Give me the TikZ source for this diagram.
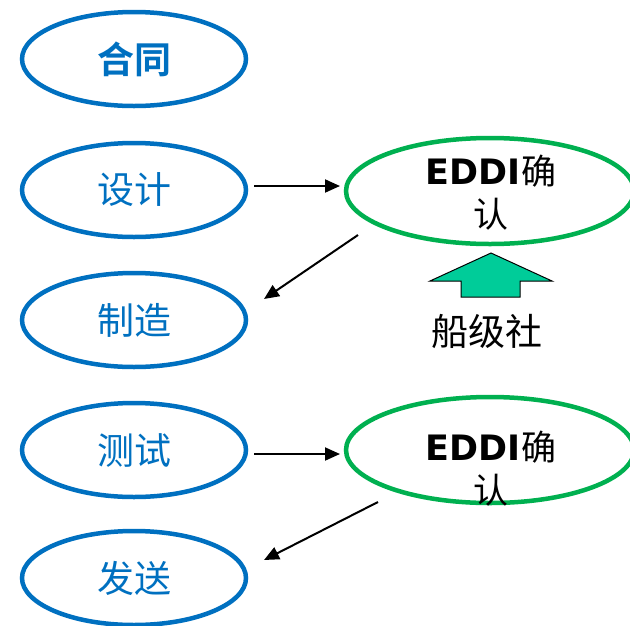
\documentclass[tikz,border=0pt]{standalone}
\usepackage{fontspec}
\newfontfamily\cjk{Noto Sans CJK SC}
\newfontfamily\cjkb{Noto Sans CJK SC Bold}
\newfontfamily\eddi{DejaVu Sans}
\usetikzlibrary{shapes.geometric,arrows.meta}
\definecolor{pblue}{HTML}{0070C0}
\definecolor{pgreen}{HTML}{00B050}
\definecolor{pteal}{HTML}{00CC99}
\tikzset{
  stage/.style={ellipse,draw=pblue,line width=4.5pt,minimum width=224pt,minimum height=94pt,inner sep=0pt,text=pblue,font=\fontsize{37}{40}\selectfont\cjk},
  check/.style={ellipse,draw=pgreen,line width=4.5pt,minimum width=288pt,minimum height=106pt,inner sep=0pt},
  lbl/.style={inner sep=0pt,align=center,font=\fontsize{35}{43}\selectfont},
  flow/.style={line width=2pt,-{Triangle[length=15pt,width=13pt]}},
}
\begin{document}
\begin{tikzpicture}[x=1pt,y=-1pt]
\useasboundingbox (0,0) rectangle (630,625);
\node[stage,font=\fontsize{37}{40}\selectfont\cjkb] (hetong) at (134,59) {合同};
\node[stage] (sheji) at (134,190) {设计};
\node[stage] (zhizao) at (134,320) {制造};
\node[stage] (ceshi) at (134,450) {测试};
\node[stage] (fasong) at (134,578) {发送};
\node[check] (e1) at (490,191) {};
\node[check] (e2) at (490,450) {};
\node[lbl] (t1) at (491,193) {{\eddi\bfseries EDDI}{\cjk 确}\\{\cjk 认}};
\node[lbl] (t2) at (491,469) {{\eddi\bfseries EDDI}{\cjk 确}\\{\cjk 认}};
\coordinate (a1s) at (254,186);
\coordinate (a1e) at (340,186);
\coordinate (a2s) at (358,235);
\coordinate (a2e) at (264,299);
\coordinate (a3s) at (254,454);
\coordinate (a3e) at (340,454);
\coordinate (a4s) at (378,502);
\coordinate (a4e) at (264,560);
\draw[flow] (a1s) -- (a1e);
\draw[flow] (a2s) -- (a2e);
\draw[flow] (a3s) -- (a3e);
\draw[flow] (a4s) -- (a4e);
\coordinate (tip) at (491,253);
\draw[fill=pteal,draw=black,line width=1pt] (tip) -- (552,281) -- (520,281) -- (520,297) -- (461,297) -- (461,281) -- (430,281) -- cycle;
\node[lbl,font=\fontsize{37}{40}\selectfont\cjk] (cs) at (487,331) {船级社};
\end{tikzpicture}
\end{document}
